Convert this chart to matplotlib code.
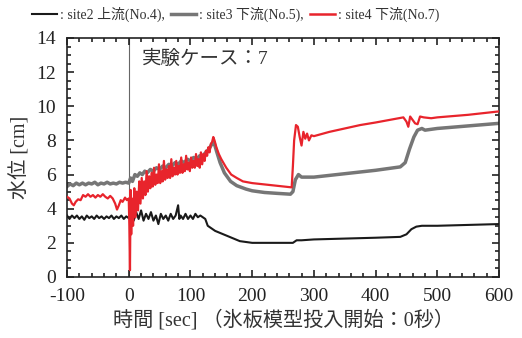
import matplotlib.pyplot as plt
from matplotlib.lines import Line2D
from matplotlib.ticker import MultipleLocator

plt.rcParams['font.family'] = ['Liberation Serif', 'Noto Sans CJK JP', 'DejaVu Sans']
plt.rcParams['axes.unicode_minus'] = False

# site2 upstream (No.4) - black
t_site2 = [-100, -96, -92, -88, -84, -80, -76, -72, -68, -64, -60, -56, -52, -48, -44, -40,
           -36, -32, -28, -24, -20, -16, -12, -8, -4, 0, 4, 8, 12, 16, 20, 24, 28, 32, 36, 40,
           44, 48, 52, 56, 60, 64, 68, 72, 76, 80, 82, 84, 88, 92, 96, 100, 104, 108, 112, 116,
           120, 124, 128, 132, 136, 140, 150, 160, 170, 180, 190, 200, 220, 240, 260, 266, 272,
           280, 300, 350, 400, 440, 450, 458, 466, 475, 500, 550, 600]
h_site2 = [3.6, 3.4, 3.6, 3.45, 3.6, 3.4, 3.55, 3.35, 3.6, 3.45, 3.55, 3.4, 3.6, 3.45, 3.55, 3.4,
           3.55, 3.45, 3.6, 3.4, 3.55, 3.45, 3.6, 3.4, 3.55, 3.45, 3.7, 3.3, 3.8, 3.4, 3.9, 3.3,
           3.7, 3.4, 3.8, 3.3, 3.6, 3.1, 3.7, 3.4, 3.6, 3.3, 3.7, 3.4, 3.6, 4.2, 3.4, 3.6, 3.4,
           3.7, 3.4, 3.6, 3.4, 3.7, 3.5, 3.6, 3.5, 3.4, 3.0, 2.9, 2.8, 2.7, 2.55, 2.4, 2.25, 2.1,
           2.05, 2.0, 2.0, 2.0, 2.0, 2.0, 2.15, 2.15, 2.2, 2.25, 2.3, 2.35, 2.5, 2.8, 2.95, 3.0,
           3.0, 3.05, 3.1]

# site3 downstream (No.5) - gray
t_site3 = [-100, -95, -90, -85, -80, -75, -70, -65, -60, -55, -50, -45, -40, -35, -30, -25, -20,
           -15, -10, -5, 0, 3, 6, 10, 14, 18, 22, 26, 30, 35, 40, 45, 50, 55, 60, 65, 70, 75, 80,
           85, 90, 95, 100, 105, 110, 115, 120, 125, 130, 135, 138, 142, 148, 155, 165, 175, 190,
           200, 220, 240, 262, 266, 270, 275, 280, 300, 350, 400, 440, 448, 455, 462, 468, 475,
           480, 500, 550, 600]
h_site3 = [5.3, 5.45, 5.35, 5.5, 5.4, 5.5, 5.4, 5.5, 5.45, 5.55, 5.4, 5.5, 5.45, 5.55, 5.45, 5.5,
           5.45, 5.55, 5.5, 5.55, 5.5, 5.8, 5.6, 6.0, 5.9, 6.1, 6.0, 6.2, 6.1, 6.3, 6.2, 6.4, 6.3,
           6.5, 6.4, 6.6, 6.5, 6.7, 6.6, 6.8, 6.7, 6.9, 6.8, 7.0, 6.9, 7.1, 7.1, 7.3, 7.5, 7.8,
           7.9, 7.4, 6.7, 6.1, 5.6, 5.35, 5.15, 5.05, 4.95, 4.9, 4.85, 5.0, 5.7, 6.0, 5.85, 5.85,
           6.05, 6.25, 6.45, 6.7, 7.5, 8.2, 8.6, 8.7, 8.6, 8.7, 8.85, 9.0]

# site4 downstream (No.7) - red
t_site4 = [-100, -96, -92, -89, -86, -82, -78, -74, -70, -66, -62, -58, -54, -50, -46, -42, -38,
           -34, -30, -26, -22, -19, -16, -13, -10, -6, -3, 0, 1, 2, 3, 4, 5, 7, 9, 11, 13, 15,
           17, 19, 21, 23, 25, 27, 29, 31, 33, 35, 37, 39, 41, 43, 45, 47, 49, 51, 53, 55, 57,
           59, 61, 63, 65, 67, 69, 71, 73, 75, 77, 79, 81, 83, 85, 87, 89, 91, 93, 95, 97, 99,
           101, 103, 105, 107, 109, 111, 113, 115, 117, 119, 121, 123, 125, 127, 129, 131, 133,
           135, 137, 139, 142, 146, 150, 158, 166, 175, 185, 200, 225, 250, 264, 266, 268, 271,
           274, 277, 280, 283, 286, 289, 292, 296, 300, 325, 350, 375, 400, 430, 445, 450, 453,
           456, 460, 464, 468, 472, 478, 490, 500, 550, 600]
h_site4 = [4.7, 4.6, 4.3, 4.2, 4.4, 4.55, 4.5, 4.8, 4.7, 4.85, 4.7, 4.8, 4.65, 4.8, 4.7, 4.85,
           4.7, 4.6, 4.75, 4.6, 4.3, 3.95, 4.2, 4.5, 4.4, 4.65, 4.5, 4.6, 3.0, 0.4, 5.1, 2.5,
           4.6, 3.0, 5.2, 3.5, 5.0, 3.9, 5.6, 4.3, 5.8, 4.6, 5.6, 4.8, 6.2, 5.0, 5.9, 5.2, 6.1,
           5.3, 6.4, 5.4, 6.0, 5.5, 6.6, 5.5, 6.2, 5.6, 6.8, 5.7, 6.3, 5.8, 6.5, 5.8, 6.9, 5.9,
           6.4, 6.0, 6.8, 6.0, 6.5, 6.1, 7.0, 6.1, 6.6, 6.2, 7.1, 6.3, 6.7, 6.2, 7.0, 6.4, 6.8,
           6.4, 7.2, 6.5, 6.9, 6.4, 7.3, 6.6, 7.2, 6.8, 7.4, 7.1, 7.6, 7.3, 7.8, 7.9, 8.2, 8.0,
           7.6, 7.2, 6.9, 6.4, 6.0, 5.8, 5.6, 5.5, 5.4, 5.3, 5.25, 6.5, 8.0, 8.9, 8.8, 8.2, 7.7,
           8.5, 8.1, 8.4, 8.0, 8.3, 8.25, 8.5, 8.7, 8.9, 9.05, 9.25, 9.35, 9.1, 8.8, 9.4, 9.2,
           9.0, 8.95, 9.4, 9.35, 9.3, 9.35, 9.5, 9.7]

legend_labels = [': site2 上流(No.4),', ': site3 下流(No.5),', ': site4 下流(No.7)']
colors = ['#1a1a1a', '#767676', '#e8242c']

fig = plt.figure(figsize=(5.22, 3.38), dpi=100)
ax = fig.add_axes([0.1284, 0.1805, 0.8276, 0.7071])

ax.axvline(0, color='#666666', lw=0.8, zorder=1)
ax.plot(t_site2, h_site2, color=colors[0], lw=1.5, zorder=3)
ax.plot(t_site3, h_site3, color=colors[1], lw=2.5, zorder=2)
ax.plot(t_site4, h_site4, color=colors[2], lw=1.6, zorder=4)

ax.set_xlim(-100, 600)
ax.set_ylim(0, 14)
ax.xaxis.set_major_locator(MultipleLocator(100))
ax.xaxis.set_minor_locator(MultipleLocator(20))
ax.yaxis.set_major_locator(MultipleLocator(2))
ax.yaxis.set_minor_locator(MultipleLocator(0.5))
ax.tick_params(which='both', direction='in', top=True, right=True, colors='#222222',
               labelsize=14, width=1.2)
ax.tick_params(which='major', length=5)
ax.tick_params(which='minor', length=3)
ax.tick_params(axis='x', which='major', pad=8)
ax.tick_params(axis='y', which='major', pad=8)
for s in ax.spines.values():
    s.set_linewidth(1.2)
    s.set_color('#222222')

ax.set_xlabel('時間 [sec] （氷板模型投入開始：0秒）', fontsize=14.5, color='#333333', labelpad=3)
ax.set_ylabel('水位 [cm]', fontsize=14.5, color='#333333', labelpad=4)

ax.text(22, 12.8, '実験ケース：7', fontsize=14, color='#333333', va='center')

# legend drawn above the axes
line_x = [(0.061, 0.109), (0.328, 0.375), (0.594, 0.642)]
text_x = [0.115, 0.381, 0.648]
widths = [1.5, 2.5, 1.8]
for (x0, x1), tx, c, w, lab in zip(line_x, text_x, colors, widths, legend_labels):
    fig.add_artist(Line2D([x0, x1], [0.958, 0.958], color=c, lw=w, transform=fig.transFigure))
    fig.text(tx, 0.958, lab, fontsize=10, color='#333333', va='center')

fig.savefig('out.png', dpi=100)
